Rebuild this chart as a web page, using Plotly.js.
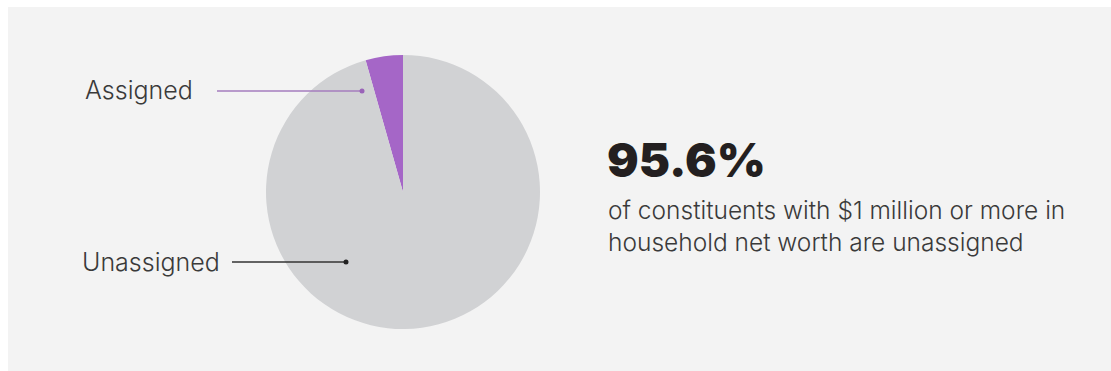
<!DOCTYPE html>
<html>
<head>
<meta charset="utf-8">
<script src="https://cdn.plot.ly/plotly-3.0.1.min.js"></script>
<style>
html,body{margin:0;padding:0;background:#ffffff;}
#chart{width:1111px;height:371px;}
</style>
</head>
<body>
<div id="chart"></div>
<script>
var labels = ['Assigned', 'Unassigned'];
var values = [4.4, 95.6];
var colors = ['#a566c7', '#d1d2d4'];
var headline = values[1].toFixed(1) + '%';
var subtitle = 'of constituents with $1 million or more in<br>household net worth are unassigned';

var W = 1111, H = 371;
function px(x){ return x / W; }
function py(y){ return 1 - y / H; }

var cx = 403, cy = 192, r = 137;
var FONT = 'Inter, Lato, sans-serif';
var total = values.reduce(function(a, b){ return a + b; }, 0);

var data = [{
  type: 'pie',
  labels: labels,
  values: values,
  sort: false,
  direction: 'clockwise',
  rotation: -values[0] / total * 360,
  textinfo: 'none',
  hoverinfo: 'label+percent',
  marker: {colors: colors, line: {color: '#f3f3f3', width: 0}},
  domain: {x: [px(cx - r), px(cx + r)], y: [py(cy + r), py(cy - r)]},
  showlegend: false
}];

var layout = {
  width: W, height: H,
  margin: {l: 0, r: 0, t: 0, b: 0},
  paper_bgcolor: '#ffffff',
  font: {family: FONT, color: '#333333'},
  shapes: [
    {type: 'rect', xref: 'paper', yref: 'paper', x0: px(8), x1: 1, y0: 0, y1: py(7),
     fillcolor: '#f3f3f3', line: {width: 0}, layer: 'below'},
    {type: 'line', xref: 'paper', yref: 'paper', x0: px(217), x1: px(362), y0: py(91), y1: py(91),
     line: {color: '#a57cbe', width: 1.5}},
    {type: 'circle', xref: 'paper', yref: 'paper', x0: px(359.5), x1: px(364.5), y0: py(93.5), y1: py(88.5),
     fillcolor: '#9a63b8', line: {width: 0}},
    {type: 'line', xref: 'paper', yref: 'paper', x0: px(232), x1: px(346), y0: py(262), y1: py(262),
     line: {color: '#333333', width: 1.5}},
    {type: 'circle', xref: 'paper', yref: 'paper', x0: px(343.5), x1: px(348.5), y0: py(264.5), y1: py(259.5),
     fillcolor: '#222222', line: {width: 0}}
  ],
  annotations: [
    {text: labels[0], xref: 'paper', yref: 'paper', x: px(83), y: py(90), xanchor: 'left', yanchor: 'middle',
     showarrow: false, font: {size: 25, color: '#3a3a3a', family: FONT, weight: 300}},
    {text: labels[1], xref: 'paper', yref: 'paper', x: px(80), y: py(262), xanchor: 'left', yanchor: 'middle',
     showarrow: false, font: {size: 25, color: '#3a3a3a', family: FONT, weight: 300}},
    {text: headline, xref: 'paper', yref: 'paper', x: px(605), y: py(159), xanchor: 'left', yanchor: 'middle',
     showarrow: false, font: {size: 47, color: '#231f20', family: FONT, weight: 900}},
    {text: subtitle, xref: 'paper', yref: 'paper', x: px(606), y: py(226), xanchor: 'left', yanchor: 'middle', align: 'left',
     showarrow: false, font: {size: 24.5, color: '#3a3a3a', family: FONT, weight: 300}}
  ]
};

Plotly.newPlot('chart', data, layout, {displayModeBar: false, staticPlot: true});
</script>
</body>
</html>
